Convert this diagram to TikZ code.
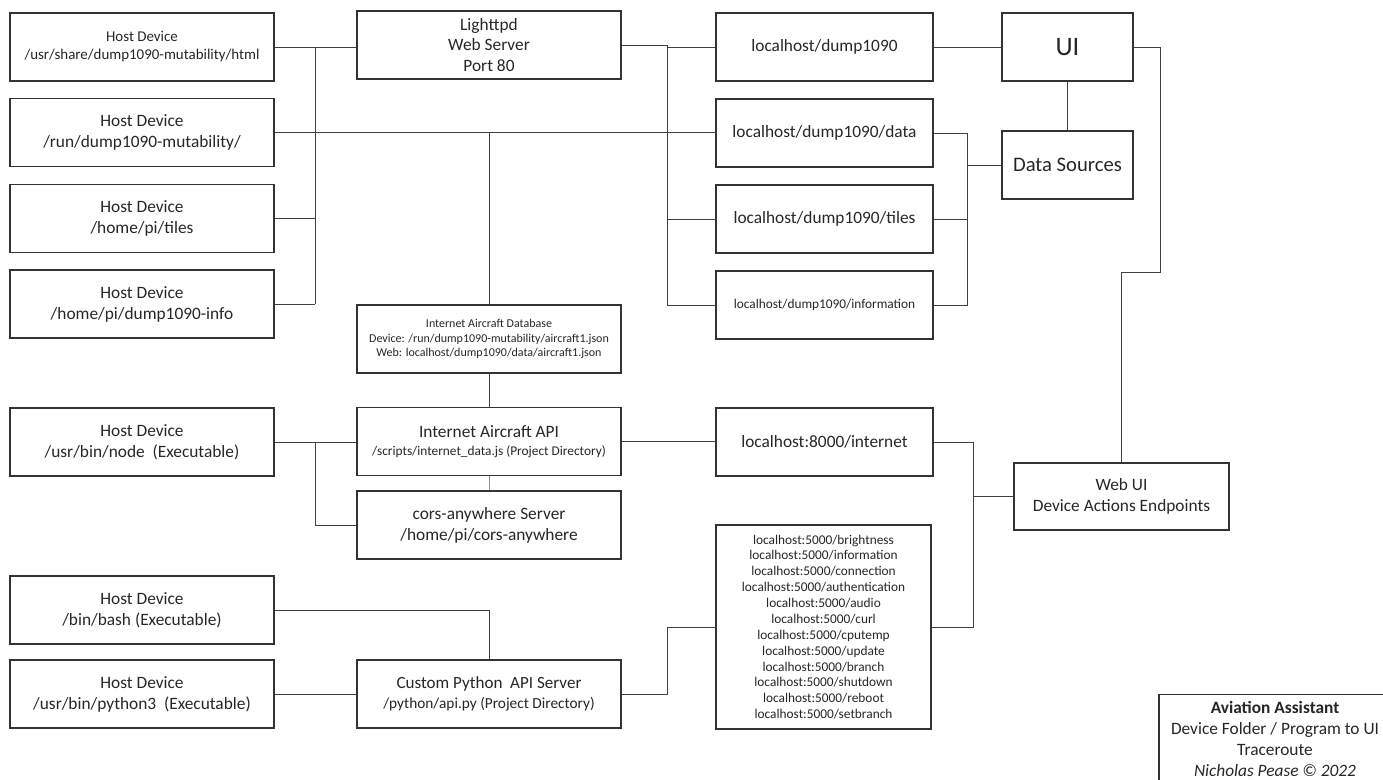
\documentclass[tikz,border=0pt]{standalone}
\usepackage{fontspec}
\setmainfont{Carlito}
\definecolor{apiblue}{RGB}{91,155,213}
\newcommand{\fsz}[2]{\fontsize{#1}{#2}\selectfont}
\tikzset{
  box/.style={draw=black!80, line width=0.9pt, align=center, text=black!85, inner sep=2pt},
  hostbox/.style={box, minimum width=198pt, minimum height=51pt, font=\fsz{13}{15.75}},
  urlbox/.style={box, minimum width=162.75pt, minimum height=51pt, font=\fsz{13}{15.75}},
  wire/.style={draw=black!75, line width=0.75pt}
}
\begin{document}
\begin{tikzpicture}[x=0.75pt,y=-0.75pt]
  \useasboundingbox (0,0) rectangle (1383,779);
  % bus lines
  \coordinate (lbus) at (315,0);
  \coordinate (mbus) at (667,0);
  \coordinate (dbus) at (967,0);
  \coordinate (wbus) at (973,0);
  \coordinate (uiturn) at (1160,272);

  % host device column
  \node[hostbox, font=\fsz{11.2}{13.5}] (hhtml) at (142,47) {Host Device\\/usr/share/dump1090-mutability/html};
  \node[hostbox] (hrun) at (142,132.5) {Host Device\\/run/dump1090-mutability/};
  \node[hostbox] (htiles) at (142,218.5) {Host Device\\/home/pi/tiles};
  \node[hostbox] (hinfo) at (142,304) {Host Device\\/home/pi/dump1090-info};
  \node[hostbox] (hnode) at (142,442) {Host Device\\/usr/bin/node\ \ (Executable)};
  \node[hostbox] (hbash) at (142,610) {Host Device\\/bin/bash (Executable)};
  \node[hostbox] (hpython) at (142,694) {Host Device\\/usr/bin/python3\ \ (Executable)};

  % servers
  \node[hostbox, font=\fsz{13}{15.4}] (light) at (489,45) {Lighttpd\\Web Server\\Port 80};
  \node[hostbox, font=\fsz{9}{10.9}] (db) at (489,339) {Internet Aircraft Database\\Device: /run/dump1090-mutability/aircraft1.json\\Web: localhost/dump1090/data/aircraft1.json};
  \node[hostbox, font=\fsz{10}{13.5}] (api) at (489,441.5) {{\fsz{13}{13.5}Internet Aircraft API}\\/scripts/internet\_data.js (Project Directory)};
  \node[hostbox] (cors) at (489,525) {cors-anywhere Server\\/home/pi/cors-anywhere};
  \node[hostbox, font=\fsz{11.5}{15.5}] (pyapi) at (489,694) {{\fsz{12.8}{15.5}Custom Python\ \ API Server}\\/python/api.py (Project Directory)};

  % endpoints
  \node[urlbox] (ldump) at (824.5,47) {localhost/dump1090};
  \node[urlbox] (ldata) at (824.5,133) {localhost/dump1090/data};
  \node[urlbox] (ltiles) at (824.5,219) {localhost/dump1090/tiles};
  \node[urlbox, font=\fsz{10}{12}] (linfo) at (824.5,305) {localhost/dump1090/information};
  \node[urlbox] (linet) at (824.5,442) {localhost:8000/internet};
  \node[urlbox, minimum width=161.25pt, minimum height=153pt, font=\fsz{10}{11.9}] (lep) at (823.5,627)
    {localhost:5000/brightness\\localhost:5000/information\\localhost:5000/connection\\localhost:5000/authentication\\localhost:5000/audio\\localhost:5000/curl\\localhost:5000/cputemp\\localhost:5000/update\\localhost:5000/branch\\localhost:5000/shutdown\\localhost:5000/reboot\\localhost:5000/setbranch};

  % user interface
  \node[box, minimum width=98.25pt, minimum height=51pt, font=\fsz{20}{22}] (ui) at (1067.5,47) {UI};
  \node[box, minimum width=98.25pt, minimum height=51pt, font=\fsz{15.5}{17}] (ds) at (1067.5,165) {Data Sources};
  \node[box, minimum width=161.25pt, minimum height=50.25pt, font=\fsz{13}{15.75}] (webui) at (1121.5,496.5) {Web UI\\Device Actions Endpoints};

  \node[box, anchor=north, minimum width=174pt, inner ysep=5pt, font=\fsz{13}{15.75}] (title) at (1275,694)
    {\textbf{Aviation Assistant}\\Device Folder / Program to UI\\Traceroute\\\textit{Nicholas Pease © 2022}};

  % host devices to lighttpd
  \draw[wire] (hhtml.east) -- (hhtml.east -| light.west);
  \draw[wire] (hhtml.east -| lbus) -- (hinfo.east -| lbus);
  \draw[wire] (hrun.east) -- (hrun.east -| ldata.west);
  \draw[wire] (htiles.east) -- (htiles.east -| lbus);
  \draw[wire] (hinfo.east) -- (hinfo.east -| lbus);
  \draw[wire] (db.north) -- (db.north |- hrun.east);

  % lighttpd to endpoints
  \draw[wire] (light.east) -| (mbus |- linfo.west) -- (linfo.west);
  \draw[wire] (ldump.west) -- (ldump.west -| mbus);
  \draw[wire] (ltiles.west) -- (ltiles.west -| mbus);

  % endpoints to ui
  \draw[wire] (ldump.east) -- (ldump.east -| ui.west);
  \draw[wire] (ui.south) -- (ds.north);
  \draw[wire] (ldata.east) -| (dbus |- linfo.east) -- (linfo.east);
  \draw[wire] (ltiles.east) -- (ltiles.east -| dbus);
  \draw[wire] (ds.west) -- (ds.west -| dbus);
  \draw[wire] (ui.east) -| (uiturn) -| (webui.north);

  % internet api
  \draw[wire] (db.south) -- (api.north);
  \draw[wire, draw=apiblue] (api.south) -- (cors.north);
  \draw[wire] (hnode.east) -- (hnode.east -| api.west);
  \draw[wire] (hnode.east -| lbus) |- (cors.west);
  \draw[wire] (api.east) -- (api.east -| linet.west);

  % python api
  \draw[wire] (hbash.east) -| (pyapi.north);
  \draw[wire] (hpython.east) -- (pyapi.west);
  \draw[wire] (pyapi.east) -| (mbus |- lep.west) -- (lep.west);

  % web ui
  \draw[wire] (linet.east) -| (wbus |- lep.east) -- (lep.east);
  \draw[wire] (webui.west) -- (webui.west -| wbus);
\end{tikzpicture}
\end{document}
